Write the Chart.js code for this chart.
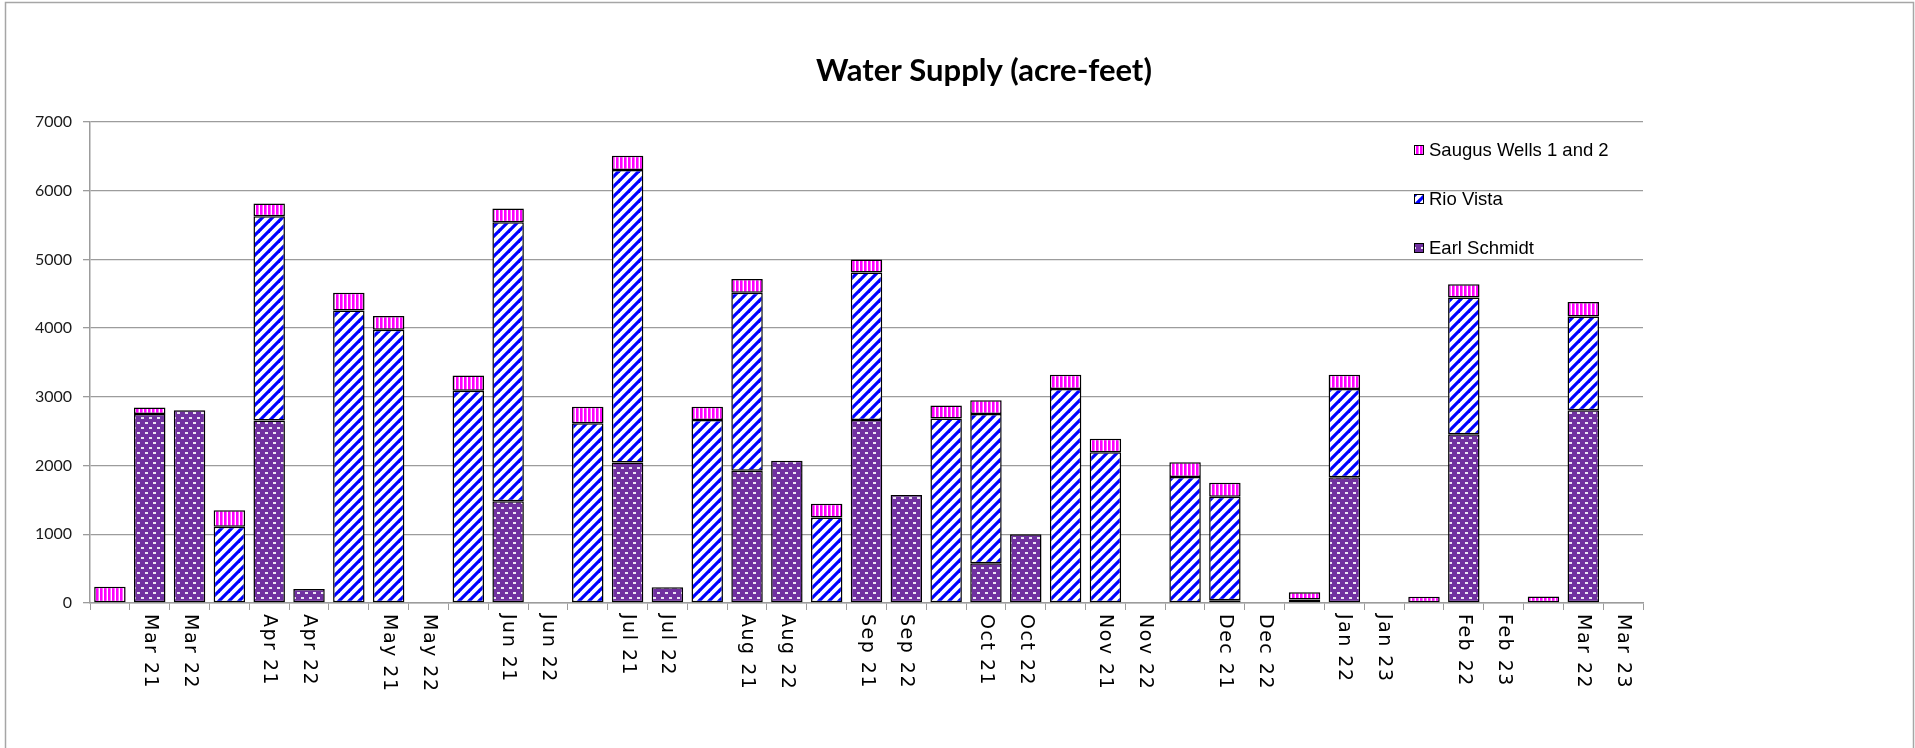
<!DOCTYPE html>
<html>
<head>
<meta charset="utf-8">
<script src="https://cdn.jsdelivr.net/npm/chart.js@4.4.1/dist/chart.umd.min.js"></script>
<style>
  html, body { margin: 0; padding: 0; background: #fff; }
  canvas { display: block; }
</style>
</head>
<body>
<canvas id="waterChart" width="1915" height="748"></canvas>
<script>
// Categorias: um trio por mês (barra sem rótulo, ano 21, ano 22)
const labels = [
    '', 'Mar 21', 'Mar 22', '', 'Apr 21', 'Apr 22', '', 'May 21', 'May 22',
    '', 'Jun 21', 'Jun 22', '', 'Jul 21', 'Jul 22', '', 'Aug 21', 'Aug 22',
    '', 'Sep 21', 'Sep 22', '', 'Oct 21', 'Oct 22', '', 'Nov 21', 'Nov 22',
    '', 'Dec 21', 'Dec 22', '', 'Jan 22', 'Jan 23', '', 'Feb 22', 'Feb 23',
    '', 'Mar 22', 'Mar 23'
];

// Valores (acre-feet); null = sem barra
const earlSchmidt = [
    null, 2750, 2805, null, 2655, 205, null, null, null,
    null, 1480, null, null, 2045, 230, null, 1925, 2070,
    null, 2665, 1570, null, 580, 1000, null, null, null,
    null, 40, null, null, 1830, null, null, 2455, null,
    null, 2805, null
];
const rioVista = [
    null, null, null, 1110, 2975, null, 4255, 3975, null,
    3090, 4060, null, 2615, 4255, null, 2665, 2590, null,
    1245, 2145, null, 2685, 2170, null, 3115, 2195, null,
    1835, 1505, null, 50, 1285, null, null, 1990, null,
    null, 1365, null
];
const saugusWells = [
    235, 95, null, 240, 185, null, 260, 200, null,
    220, 200, null, 240, 210, null, 190, 200, null,
    200, 190, null, 190, 200, null, 205, 195, null,
    215, 205, null, 105, 205, null, 90, 195, null,
    95, 210, null
];

const yTicks = [0, 1000, 2000, 3000, 4000, 5000, 6000, 7000];

// Padrões de preenchimento (estilo Excel)
function makePattern(w, h, draw) {
    const c = document.createElement('canvas');
    c.width = w;
    c.height = h;
    const g = c.getContext('2d');
    draw(g, w, h);
    return g.createPattern(c, 'repeat');
}

const purpleDots = makePattern(8, 10, (g, w, h) => {
    g.fillStyle = '#7030a0';
    g.fillRect(0, 0, w, h);
    g.fillStyle = '#ece4f4';
    g.fillRect(1, 2, 3, 2);
    g.fillRect(5, 7, 3, 2);
});

const blueStripes = makePattern(10, 10, (g, w, h) => {
    g.fillStyle = '#ffffff';
    g.fillRect(0, 0, w, h);
    g.strokeStyle = '#0000ff';
    g.lineWidth = 3.2;
    [-10, 0, 10].forEach(o => {
        g.beginPath();
        g.moveTo(o - 1, h + 1);
        g.lineTo(o + w + 1, -1);
        g.stroke();
    });
});

const pinkBars = makePattern(4, 4, (g, w, h) => {
    g.fillStyle = '#ffffff';
    g.fillRect(0, 0, w, h);
    g.fillStyle = '#ff00ff';
    g.fillRect(0, 0, 2.6, h);
});

const gridGray = '#9c9c9c';

// Título, rótulos do eixo x (rotação de 90°) e legenda
const decor = {
    id: 'decor',
    beforeDraw(chart) {
        const ctx = chart.ctx;
        ctx.save();
        ctx.fillStyle = '#fff';
        ctx.fillRect(0, 0, chart.width, chart.height);
        ctx.strokeStyle = '#a6a6a6';
        ctx.lineWidth = 1.5;
        ctx.strokeRect(5.5, 2.5, 1908, 800);
        ctx.restore();
    },
    afterDraw(chart) {
        const ctx = chart.ctx;
        const xScale = chart.scales.x;
        ctx.save();

        ctx.fillStyle = '#000';
        ctx.font = 'bold 31px Lato';
        ctx.textAlign = 'center';
        ctx.textBaseline = 'middle';
        ctx.fillText('Water Supply (acre-feet)', 984, 71);

        ctx.font = '19px "DejaVu Sans"';
        ctx.letterSpacing = '1.5px';
        ctx.textAlign = 'left';
        ctx.textBaseline = 'middle';
        labels.forEach((lab, i) => {
            if (!lab) return;
            const x = xScale.getPixelForValue(i);
            ctx.save();
            ctx.translate(x, 614);
            ctx.rotate(Math.PI / 2);
            ctx.fillText(lab, 0, 0);
            ctx.restore();
        });
        ctx.letterSpacing = '0px';

        // legenda em ordem inversa (série do topo primeiro)
        const sets = chart.data.datasets.slice().reverse();
        ctx.font = '18.5px "Liberation Sans"';
        sets.forEach((ds, k) => {
            const cy = 150 + k * 49;
            ctx.fillStyle = ds.backgroundColor;
            ctx.fillRect(1414, cy - 5, 10, 10);
            ctx.strokeStyle = '#000';
            ctx.lineWidth = 1;
            ctx.strokeRect(1414.5, cy - 4.5, 9, 9);
            ctx.fillStyle = '#000';
            ctx.fillText(ds.label, 1429, cy + 1);
        });
        ctx.restore();
    }
};

const data = {
    labels: labels,
    datasets: [
        { label: 'Earl Schmidt', data: earlSchmidt, backgroundColor: purpleDots },
        { label: 'Rio Vista', data: rioVista, backgroundColor: blueStripes },
        { label: 'Saugus Wells 1 and 2', data: saugusWells, backgroundColor: pinkBars }
    ].map(ds => Object.assign(ds, {
        borderColor: '#000',
        borderWidth: 1.5,
        borderSkipped: false,
        categoryPercentage: 1,
        barPercentage: 0.79
    }))
};

const conf = {
    type: 'bar',
    data: data,
    options: {
        responsive: false,
        animation: false,
        devicePixelRatio: 1,
        layout: { padding: { top: 122, right: 272, bottom: 0, left: 0 } },
        plugins: {
            legend: { display: false },
            title: { display: false },
            tooltip: { enabled: false }
        },
        scales: {
            x: {
                stacked: true,
                grid: {
                    display: true,
                    offset: true,
                    drawOnChartArea: false,
                    drawTicks: true,
                    tickLength: 7,
                    color: gridGray
                },
                border: { display: true, color: gridGray, width: 1.5 },
                ticks: { display: false },
                afterFit(scale) { scale.height = 145; }
            },
            y: {
                stacked: true,
                min: 0,
                max: 7000,
                afterBuildTicks(scale) {
                    scale.ticks = yTicks.map(v => ({ value: v }));
                },
                ticks: {
                    color: '#1a1a1a',
                    padding: 11,
                    font: { family: 'Lato', size: 16 },
                    callback: v => String(v)
                },
                grid: { color: gridGray, lineWidth: 1.3, tickLength: 7 },
                border: { display: true, color: gridGray, width: 1.5 },
                afterFit(scale) { scale.width = 90; }
            }
        }
    },
    plugins: [decor]
};

const waterChart = new Chart(document.getElementById('waterChart'), conf);
</script>
</body>
</html>
